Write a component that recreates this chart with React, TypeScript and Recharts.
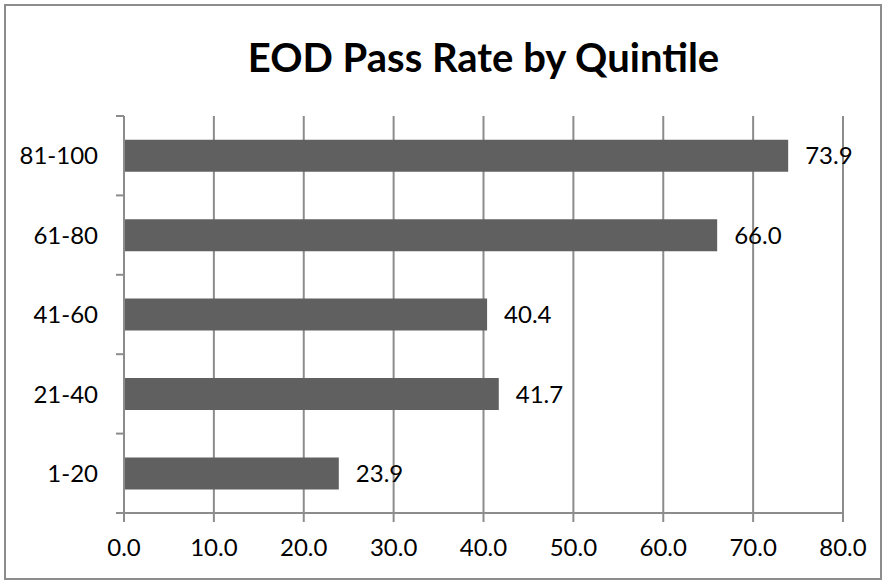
import React from "react";
import { BarChart, Bar, XAxis, YAxis, CartesianGrid, LabelList } from "recharts";

const quintiles = ["81-100", "61-80", "41-60", "21-40", "1-20"];
const passRates = [73.9, 66.0, 40.4, 41.7, 23.9];
const xTicks = [0, 10, 20, 30, 40, 50, 60, 70, 80];

const data = quintiles.map((name, i) => ({ name, value: passRates[i] }));

const FONT = "Lato, 'Open Sans', sans-serif";
const GRAY = "#8c8c8c";
const Y_TICK = 8;
const Y_GAP = 18;

// Excel puts category tick marks on the band edges, not the centers
function CategoryTick(props: any) {
  const { x, y, payload, index, visibleTicksCount } = props;
  const half = payload?.offset ?? 0;
  const ax = x + Y_TICK + Y_GAP;
  const last = index === visibleTicksCount - 1;
  return (
    <g>
      <line x1={ax - Y_TICK} x2={ax} y1={y - half} y2={y - half} stroke={GRAY} strokeWidth={2} />
      {last && <line x1={ax - Y_TICK} x2={ax} y1={y + half} y2={y + half} stroke={GRAY} strokeWidth={2} />}
      <text x={x} y={y} dy="0.36em" textAnchor="end" fontSize={24} fontFamily={FONT} fill="#000">
        {payload.value}
      </text>
    </g>
  );
}

export default function App() {
  return (
    <div style={{ position: "absolute", left: 0, top: 0, width: 884, height: 580, background: "#fff" }}>
      <div
        style={{
          position: "absolute",
          left: 4,
          top: 4,
          width: 878,
          height: 576,
          boxSizing: "border-box",
          border: `2px solid ${GRAY}`,
        }}
      />
      <div
        style={{
          position: "absolute",
          left: 0,
          top: 33,
          width: 967,
          textAlign: "center",
          fontFamily: FONT,
          fontWeight: 700,
          fontSize: 40,
          lineHeight: "48px",
          color: "#000",
        }}
      >
        EOD Pass Rate by Quintile
      </div>
      <div style={{ position: "absolute", left: 0, top: 0 }}>
        <BarChart
          width={884}
          height={580}
          data={data}
          layout="vertical"
          margin={{ top: 116, right: 41, bottom: 0, left: 0 }}
          barCategoryGap="30%"
        >
          <CartesianGrid horizontal={false} stroke={GRAY} strokeWidth={2} />
          <XAxis
            type="number"
            domain={[0, 80]}
            ticks={xTicks}
            interval={0}
            height={67}
            tickSize={9}
            tickMargin={17}
            tickFormatter={(v: number) => v.toFixed(1)}
            tick={{ fontSize: 24, fontFamily: FONT, fill: "#000" }}
            axisLine={{ stroke: GRAY, strokeWidth: 2 }}
            tickLine={{ stroke: GRAY, strokeWidth: 2 }}
          />
          <YAxis
            type="category"
            dataKey="name"
            width={124}
            tickSize={Y_TICK}
            tickMargin={Y_GAP}
            tickLine={false}
            axisLine={{ stroke: GRAY, strokeWidth: 2 }}
            tick={<CategoryTick />}
            interval={0}
          />
          <Bar dataKey="value" fill="#606060" isAnimationActive={false}>
            <LabelList
              dataKey="value"
              position="right"
              offset={17}
              formatter={(v: any) => Number(v).toFixed(1)}
              style={{ fontSize: 24, fontFamily: FONT, fill: "#000" }}
            />
          </Bar>
        </BarChart>
      </div>
    </div>
  );
}
